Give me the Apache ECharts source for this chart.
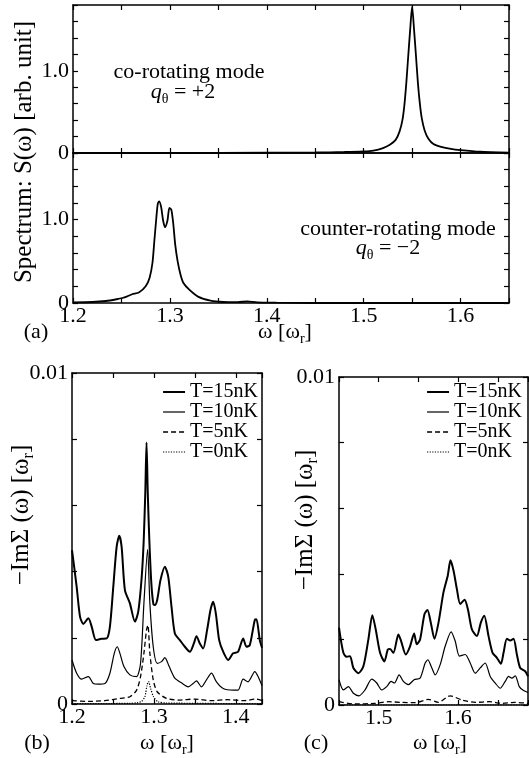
<!DOCTYPE html>
<html><head><meta charset="utf-8">
<script src="https://cdn.jsdelivr.net/npm/echarts@6/dist/echarts.min.js"></script>
<style>html,body{margin:0;padding:0;background:#fff}#c{width:529px;height:758px}</style>
</head><body><div id="c"></div>
<script>
// ---------------- DATA ----------------
// Panel (a), upper: co-rotating mode (q = +2)   [omega, S]
const coRotating = [[1.2,0],[1.3,0],[1.4,0.003],[1.45,0.006],[1.48,0.012],[1.5,0.02],[1.51,0.03],[1.52,0.06],[1.527,0.1],[1.533,0.16],[1.537,0.26],[1.54,0.4],[1.542,0.58],[1.544,0.85],[1.546,1.18],[1.548,1.5],[1.55,1.78],[1.552,1.5],[1.554,1.18],[1.556,0.85],[1.558,0.6],[1.56,0.42],[1.563,0.27],[1.567,0.17],[1.572,0.11],[1.58,0.075],[1.59,0.05],[1.6,0.035],[1.62,0.015],[1.65,0.004]];
// Panel (a), lower: counter-rotating mode (q = -2)
const counterRotating = [[1.2,0.008],[1.22,0.012],[1.234,0.024],[1.245,0.045],[1.251,0.06],[1.256,0.08],[1.261,0.105],[1.268,0.125],[1.275,0.2],[1.279,0.3],[1.282,0.48],[1.284,0.75],[1.286,1.02],[1.2875,1.19],[1.289,1.22],[1.291,1.15],[1.293,0.99],[1.295,0.91],[1.2975,0.99],[1.2995,1.14],[1.3015,1.12],[1.3035,0.95],[1.3055,0.7],[1.308,0.5],[1.311,0.34],[1.314,0.24],[1.32,0.16],[1.329,0.077],[1.342,0.028],[1.355,0.012],[1.37,0.01],[1.38,0.02],[1.39,0.008],[1.41,0.004],[1.45,0],[1.65,0]];
// Panel (b): -Im Sigma in units of 1e-3 omega_r
const b_T15 = [[1.2,4.65],[1.2057,3.54],[1.2098,2.64],[1.2138,2.42],[1.22,2.59],[1.224,2.34],[1.2293,1.93],[1.236,1.97],[1.2423,1.98],[1.2463,2.34],[1.2504,3.54],[1.2545,4.75],[1.2577,5.08],[1.2606,4.75],[1.2646,3.44],[1.2707,3.04],[1.2768,2.49],[1.2809,2.79],[1.285,3.8],[1.2875,4.9],[1.2895,6.4],[1.291,7.9],[1.2925,6.4],[1.2945,4.9],[1.297,3.6],[1.2995,3.0],[1.3012,2.99],[1.304,3.14],[1.3081,3.75],[1.3134,4.15],[1.3175,3.85],[1.3215,2.94],[1.3256,2.13],[1.3317,1.93],[1.3378,1.73],[1.3439,1.58],[1.3488,1.83],[1.352,2.05],[1.3561,1.83],[1.3602,1.68],[1.365,2.24],[1.3691,2.84],[1.3724,3.09],[1.3756,2.74],[1.3797,1.93],[1.3846,1.58],[1.3907,1.33],[1.3967,1.53],[1.4028,1.58],[1.409,1.98],[1.413,1.73],[1.4171,1.78],[1.4232,2.54],[1.4252,2.56],[1.4293,1.93],[1.432,1.7]];
const b_T10 = [[1.2,1.33],[1.2057,0.93],[1.2118,0.75],[1.22,0.83],[1.226,0.62],[1.2317,0.6],[1.2402,0.62],[1.2463,0.93],[1.2516,1.53],[1.2553,1.73],[1.2585,1.53],[1.2634,1.13],[1.2707,0.88],[1.2789,0.83],[1.2837,1.23],[1.2878,3.04],[1.2923,4.67],[1.2951,3.04],[1.2992,1.73],[1.3041,1.23],[1.3093,1.28],[1.3134,1.4],[1.3187,1.13],[1.3256,0.78],[1.3337,0.64],[1.3419,0.52],[1.348,0.62],[1.352,0.7],[1.3581,0.52],[1.3642,0.73],[1.3703,0.93],[1.3764,0.67],[1.3846,0.47],[1.3967,0.42],[1.4028,0.42],[1.409,0.75],[1.415,0.67],[1.4232,0.98],[1.4272,0.83],[1.432,0.55]];
const b_T5 = [[1.2,0.1],[1.22,0.08],[1.24,0.1],[1.2585,0.17],[1.2707,0.22],[1.2789,0.42],[1.2837,0.83],[1.2878,1.53],[1.291,2.24],[1.2927,2.38],[1.2951,1.53],[1.2992,0.73],[1.304,0.37],[1.3154,0.17],[1.33,0.12],[1.35,0.15],[1.37,0.1],[1.39,0.13],[1.41,0.1],[1.425,0.15],[1.432,0.1]];
const b_T0 = [[1.2,0.01],[1.27,0.02],[1.28,0.04],[1.285,0.08],[1.289,0.22],[1.2915,0.55],[1.2935,0.68],[1.296,0.47],[1.2995,0.22],[1.305,0.07],[1.315,0.03],[1.432,0.01]];
// Panel (c)
const c_T15 = [[1.45,2.36],[1.4555,1.59],[1.4597,1.47],[1.4639,1.49],[1.4681,1.13],[1.4744,0.97],[1.4807,1.18],[1.487,2.0],[1.492,2.74],[1.4962,2.31],[1.5017,1.59],[1.5072,1.33],[1.5114,1.69],[1.5143,1.71],[1.5185,1.59],[1.5248,2.15],[1.5282,1.95],[1.5341,1.54],[1.5395,1.79],[1.5446,2.18],[1.5479,1.85],[1.5521,2.0],[1.5576,2.77],[1.5614,2.9],[1.5656,2.51],[1.5702,2.02],[1.5753,2.51],[1.5816,3.44],[1.587,3.95],[1.5904,4.41],[1.5942,4.1],[1.5984,3.54],[1.6026,3.08],[1.6081,3.21],[1.6123,2.92],[1.6173,2.31],[1.6236,2.1],[1.6286,2.51],[1.6329,2.72],[1.6383,2.1],[1.6434,1.59],[1.6488,1.44],[1.6539,1.26],[1.6572,1.59],[1.6614,2.02],[1.6656,1.97],[1.6698,2.02],[1.674,1.54],[1.6782,1.13],[1.6845,1.03],[1.688,0.87]];
const c_T10 = [[1.45,0.77],[1.4555,0.46],[1.4618,0.56],[1.4681,0.36],[1.4752,0.28],[1.4828,0.46],[1.4912,0.79],[1.4975,0.67],[1.5038,0.46],[1.5101,0.56],[1.5156,0.72],[1.5198,0.67],[1.5257,0.92],[1.5311,0.72],[1.5374,0.62],[1.5446,0.77],[1.5521,0.82],[1.5585,1.28],[1.5618,1.38],[1.5669,1.13],[1.5711,0.92],[1.5774,1.23],[1.5837,1.79],[1.5912,2.23],[1.5963,1.95],[1.6017,1.49],[1.6089,1.54],[1.6152,1.28],[1.6215,0.97],[1.6278,1.13],[1.6341,1.28],[1.6404,0.87],[1.6467,0.67],[1.653,0.51],[1.6593,0.72],[1.6635,0.87],[1.6677,0.82],[1.672,0.89],[1.677,0.56],[1.6824,0.44],[1.688,0.38]];
const c_T5 = [[1.45,0.1],[1.47,0.03],[1.495,0.05],[1.512,0.1],[1.529,0.08],[1.546,0.07],[1.5625,0.17],[1.575,0.08],[1.59,0.28],[1.605,0.15],[1.622,0.08],[1.639,0.1],[1.656,0.05],[1.672,0.08],[1.688,0.05]];
const c_T0 = [[1.45,0],[1.688,0]];
const legendNames = ['T=15nK','T=10nK','T=5nK','T=0nK'];
const SIGMA_UNIT = 1e-3;

// ---------------- CHART ----------------
const SERIF = '"Liberation Serif","Times New Roman",Times,serif';
const chart = echarts.init(document.getElementById('c'), null, {renderer:'canvas'});

const lineAx = {show:true, onZero:false, lineStyle:{color:'#000', width:1.5}};
const tickAx = {show:true, inside:true, length:5, lineStyle:{color:'#000', width:1.2}};
const lblStyle = {fontFamily:SERIF, fontSize:22, color:'#000'};

function fmtX(v){ const t=Math.round(v*10); return Math.abs(v*10-t)<1e-6 ? (t/10).toFixed(1) : ''; }
function fmtYa(v){ if(Math.abs(v)<1e-9) return '0'; if(Math.abs(v-1)<1e-9) return '1.0'; return ''; }
function fmtYb(v){ if(Math.abs(v)<1e-12) return '0'; if(Math.abs(v-0.01)<1e-9) return '0.01'; return ''; }

const xAxis=[], yAxis=[];
function addX(gi,min,max,showLbl){
  const base={type:'value',gridIndex:gi,min,max,interval:0.05,axisLine:lineAx,axisTick:tickAx,splitLine:{show:false}};
  xAxis.push(Object.assign({},base,{position:'bottom',axisLabel:Object.assign({show:showLbl,formatter:fmtX,margin:2},lblStyle)}));
  xAxis.push(Object.assign({},base,{position:'top',axisLabel:{show:false}}));
  return xAxis.length-2;
}
function addY(gi,min,max,interval,fmt){
  const base={type:'value',gridIndex:gi,min,max,interval,axisLine:lineAx,axisTick:tickAx,splitLine:{show:false}};
  yAxis.push(Object.assign({},base,{position:'left',axisLabel:Object.assign({show:true,formatter:fmt,margin:4},lblStyle)}));
  yAxis.push(Object.assign({},base,{position:'right',axisLabel:{show:false}}));
  return yAxis.length-2;
}
const grid=[
  {left:73,top:5,width:436,height:148,outerBoundsMode:'none'},
  {left:73,top:153,width:436,height:150,outerBoundsMode:'none'},
  {left:72,top:373,width:190,height:331,outerBoundsMode:'none'},
  {left:339,top:377,width:189,height:328,outerBoundsMode:'none'}
];
const xa0=addX(0,1.2,1.65,false), ya0=addY(0,0,1.8,0.2,fmtYa);
const xa1=addX(1,1.2,1.65,true), ya1=addY(1,0,1.8,0.2,fmtYa);
const xb=addX(2,1.2,1.432,true), yb=addY(2,0,0.01,0.002,fmtYb);
const xc=addX(3,1.45,1.688,true), yc=addY(3,0,0.01,0.002,fmtYb);

function mk(name,data,xi,yi,style,scale){
  return {name,type:'line',xAxisIndex:xi,yAxisIndex:yi,symbol:'none',smooth:0.25,
    data:data.map(p=>[p[0],p[1]*(scale||1)]),lineStyle:Object.assign({color:'#000'},style),
    itemStyle:{color:'#000'},emphasis:{disabled:true},animation:false,silent:true};
}
const st15={width:2}, st10={width:1.2}, st5={width:1.3,type:[5,3]}, st0={width:1.2,type:[1.2,1.4]};
const series=[
  mk('co',coRotating,xa0,ya0,{width:1.8}),
  mk('counter',counterRotating,xa1,ya1,{width:1.8}),
  mk(legendNames[0],b_T15,xb,yb,st15,SIGMA_UNIT),
  mk(legendNames[1],b_T10,xb,yb,st10,SIGMA_UNIT),
  mk(legendNames[2],b_T5,xb,yb,st5,SIGMA_UNIT),
  mk(legendNames[3],b_T0,xb,yb,st0,SIGMA_UNIT),
  mk(legendNames[0],c_T15,xc,yc,st15,SIGMA_UNIT),
  mk(legendNames[1],c_T10,xc,yc,st10,SIGMA_UNIT),
  mk(legendNames[2],c_T5,xc,yc,st5,SIGMA_UNIT),
  mk(legendNames[3],c_T0,xc,yc,st0,SIGMA_UNIT)
];
const legBase={data:legendNames,orient:'vertical',itemWidth:22,itemHeight:12,itemGap:0,padding:0,
  selectedMode:false,itemStyle:{opacity:0,borderWidth:0},lineStyle:{width:'inherit'},
  textStyle:{fontFamily:SERIF,fontSize:20,color:'#000',lineHeight:19.5}};
const legend=[Object.assign({},legBase,{right:271,top:382}),Object.assign({},legBase,{right:7,top:382})];

const RICH={
  n:{fontFamily:SERIF,fontSize:22,fill:'#000'},
  q:{fontFamily:SERIF,fontSize:22,fontStyle:'italic',fill:'#000'},
  s:{fontFamily:SERIF,fontSize:14,fill:'#000',padding:[14,0,0,0]},
  N:{fontFamily:SERIF,fontSize:25,fill:'#000'},
  S:{fontFamily:SERIF,fontSize:16,fill:'#000',padding:[16,0,0,0]}
};
function T(x,y,text,rot){
  return {type:'text',x,y,rotation:rot||0,silent:true,
    style:{text,fontFamily:SERIF,fontSize:22,fill:'#000',align:'center',verticalAlign:'middle',rich:RICH}};
}
const R=Math.PI/2;
const graphic={elements:[
  T(24,152,'{N|Spectrum: S(ω) [arb. unit]}',R),
  T(189,72,'{n|co-rotating mode}'),
  T(183,92,'{q|q}{s|θ}{n| = +2}'),
  T(398,229,'{n|counter-rotating mode}'),
  T(388,248,'{q|q}{s|θ}{n| = −2}'),
  T(285,332,'{n|ω [ω}{s|r}{n|]}'),
  T(36,332,'{n|(a)}'),
  T(21,515,'{N|−ImΣ (ω) [ω}{S|r}{N|]}',R),
  T(167,743,'{n|ω [ω}{s|r}{n|]}'),
  T(37,743,'{n|(b)}'),
  T(305,520,'{N|−ImΣ (ω) [ω}{S|r}{N|]}',R),
  T(440,743,'{n|ω [ω}{s|r}{n|]}'),
  T(316,743,'{n|(c)}')
]};
chart.setOption({animation:false,backgroundColor:'#fff',grid,xAxis,yAxis,series,legend,graphic});
</script></body></html>
